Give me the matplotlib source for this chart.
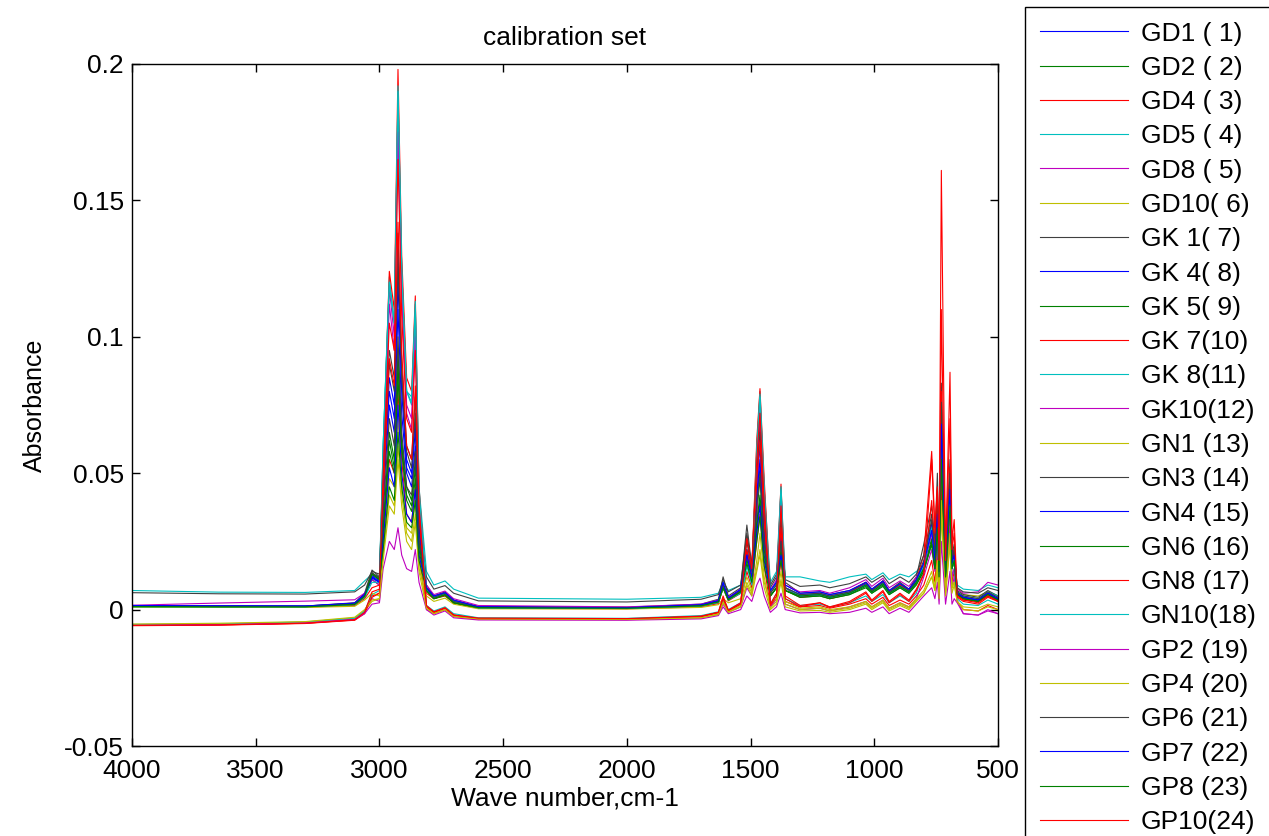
#!/usr/bin/env python3
# -*- coding: utf-8 -*-
#==============================================================================#
import numpy as np
import matplotlib
matplotlib.use('Agg')
import matplotlib.pyplot as plt
from matplotlib import ticker
#==============================================================================#
# sample names (legend text, MATLAB style padding kept)
labels = ['GD1 ( 1)', 'GD2 ( 2)', 'GD4 ( 3)', 'GD5 ( 4)', 'GD8 ( 5)', 'GD10( 6)',
          'GK 1( 7)', 'GK 4( 8)', 'GK 5( 9)', 'GK 7(10)', 'GK 8(11)', 'GK10(12)',
          'GN1 (13)', 'GN3 (14)', 'GN4 (15)', 'GN6 (16)', 'GN8 (17)', 'GN10(18)',
          'GP2 (19)', 'GP4 (20)', 'GP6 (21)', 'GP7 (22)', 'GP8 (23)', 'GP10(24)']

# absorbance (x 0.001) read at key wave numbers, one value per sample 1..24
a4000 = [1.2, 1.0, -5.8, 7.0, -5.6, -5.5, 1.5, 1.3, 1.1, 0.9, -5.4, 1.6, 0.8, 6.2, 1.4, 1.2, -5.9, 1.0, -5.7, -5.3, 1.3, 1.5, 1.1, -5.8]
a3650 = [1.1, 1.0, -5.6, 6.4, -5.5, -5.2, 1.4, 1.2, 1.0, 0.9, -5.3, 2.4, 0.8, 5.8, 1.3, 1.1, -5.7, 1.0, -5.5, -5.0, 1.2, 1.4, 1.0, -5.6]
a3300 = [1.1, 1.0, -5.0, 6.3, -4.9, -4.6, 1.3, 1.2, 1.0, 0.9, -4.5, 3.1, 0.8, 5.7, 1.3, 1.1, -5.1, 1.0, -4.9, -4.4, 1.2, 1.3, 1.0, -5.0]
a3100 = [2.0, 1.6, -3.8, 7.0, -3.5, -3.0, 2.5, 2.2, 1.8, 1.5, -3.2, 3.6, 1.2, 6.5, 2.3, 2.0, -3.9, 1.8, -3.6, -2.8, 2.1, 2.4, 1.9, -3.7]
a3060 = [5.0, 4.5, -1.0, 10.5, -0.8, -0.5, 6.0, 5.5, 5.0, 4.0, -0.5, 6.0, 3.5, 9.0, 5.5, 5.0, -1.5, 4.5, -1.5, 0.0, 5.0, 5.5, 4.8, -1.0]
a3030 = [12.0, 11.0, 5.0, 13.0, 4.0, 3.0, 14.5, 12.5, 13.5, 8.0, 5.5, 11.0, 6.0, 14.0, 12.0, 13.0, 4.5, 10.0, 2.0, 3.5, 13.5, 11.5, 13.0, 6.5]
a3000 = [10.0, 9.0, 6.0, 12.0, 3.0, 4.0, 12.0, 10.5, 11.5, 9.0, 7.0, 9.0, 5.0, 13.0, 10.0, 11.0, 6.0, 10.0, 2.5, 4.0, 11.5, 10.0, 11.0, 7.5]
a2985 = [40, 30, 25, 60, 35, 22, 55, 45, 30, 55, 60, 50, 20, 50, 40, 28, 40, 60, 15, 18, 35, 25, 22, 50]
a2960 = [85, 65, 55, 122, 118, 48, 95, 80, 62, 124, 120, 112, 42, 90, 75, 58, 92, 120, 25, 38, 70, 52, 45, 105]
a2940 = [75, 55, 50, 105, 100, 45, 85, 70, 52, 110, 105, 95, 38, 80, 65, 50, 82, 105, 22, 35, 60, 45, 40, 95]
a2925 = [130, 95, 80, 188, 185, 70, 138, 120, 90, 198, 190, 175, 60, 128, 110, 85, 142, 192, 30, 55, 100, 75, 65, 165]
a2910 = [85, 62, 55, 125, 120, 48, 90, 80, 60, 130, 125, 115, 42, 85, 72, 58, 95, 125, 20, 38, 65, 50, 45, 108]
a2890 = [55, 45, 35, 80, 75, 30, 60, 52, 42, 85, 80, 72, 28, 58, 50, 40, 60, 80, 15, 25, 45, 35, 32, 70]
a2870 = [50, 40, 32, 75, 70, 28, 55, 48, 38, 80, 76, 66, 25, 52, 45, 36, 55, 78, 14, 22, 42, 32, 30, 65]
a2855 = [70, 55, 45, 112, 108, 40, 78, 66, 52, 115, 113, 100, 35, 72, 60, 48, 82, 110, 22, 32, 58, 44, 40, 95]
a2840 = [30, 25, 20, 45, 40, 18, 35, 30, 24, 45, 42, 38, 15, 32, 28, 22, 35, 44, 10, 14, 26, 20, 18, 38]
a2810 = [8, 7, 1, 14, 0, 0.5, 9, 8, 7, 6, 1.5, 9, 5, 12, 8, 7, 1, 7, 0, 0.5, 8, 8, 7, 1.5]
a2780 = [4.5, 4.0, -1.0, 9.0, -1.5, -1.5, 5.0, 4.5, 4.0, 4.0, -0.5, 5.5, 3.0, 7.5, 4.5, 4.0, -1.0, 4.5, -2.0, -1.5, 4.5, 5.0, 4.0, -0.8]
a2735 = [5.5, 5.0, 0.5, 10.5, 0.0, 0.0, 6.5, 6.0, 5.5, 5.2, 1.0, 6.8, 4.2, 8.8, 6.0, 5.5, 0.5, 5.8, -0.5, 0.0, 6.0, 6.2, 5.5, 0.7]
a2700 = [3.0, 2.5, -2.0, 7.5, -2.5, -2.5, 3.5, 3.0, 2.5, 2.5, -1.5, 4.0, 2.0, 6.0, 3.0, 2.5, -2.0, 3.0, -3.0, -2.5, 3.0, 3.5, 2.5, -2.0]
a2600 = [0.8, 0.6, -3.2, 4.2, -3.5, -3.6, 1.2, 0.9, 0.7, 0.5, -3.0, 1.5, 0.3, 3.2, 0.9, 0.7, -3.3, 0.6, -3.8, -3.4, 0.8, 1.0, 0.7, -3.1]
a2000 = [0.5, 0.4, -3.4, 3.8, -3.6, -3.7, 0.9, 0.6, 0.5, 0.3, -3.2, 1.0, 0.2, 2.8, 0.6, 0.5, -3.5, 0.4, -3.9, -3.6, 0.6, 0.7, 0.5, -3.3]
a1700 = [1.5, 1.2, -2.6, 4.5, -3.0, -3.0, 2.0, 1.6, 1.3, 1.0, -2.2, 2.0, 0.8, 3.8, 1.6, 1.4, -2.5, 1.3, -3.4, -3.0, 1.5, 1.8, 1.4, -2.4]
a1630 = [3.0, 2.6, -1.2, 6.0, -1.8, -1.5, 3.8, 3.2, 2.8, 2.2, -0.8, 3.5, 1.8, 5.5, 3.0, 2.8, -1.0, 2.6, -2.2, -1.8, 3.0, 3.3, 2.8, -1.0]
a1611 = [9, 8, 3, 10, 2, 3, 12, 9, 8.5, 8, 4, 9, 4, 11, 9, 8, 4, 8, 1, 2.5, 9, 10, 8, 5]
a1590 = [4.0, 3.5, -0.5, 7.0, -1.0, -0.8, 5.0, 4.2, 3.8, 3.2, 0.0, 4.5, 2.5, 6.5, 4.0, 3.6, -0.3, 3.5, -1.5, -1.0, 4.0, 4.3, 3.6, -0.2]
a1540 = [7, 6, 2, 9, 1, 1.5, 8, 7, 6.5, 6, 2.5, 7.5, 4, 9, 7, 6.5, 2, 6, 0, 1, 7, 7.5, 6.5, 2.5]
a1515 = [20, 18, 14, 22, 8, 10, 31, 22, 19, 27, 16, 20, 12, 28, 21, 18, 22, 17, 5, 9, 25, 20, 17, 26]
a1495 = [12, 11, 8, 14, 5, 6, 16, 13, 11, 15, 9, 12, 7, 15, 12, 11, 12, 10, 3, 5, 14, 12, 10, 15]
a1475 = [45, 35, 25, 60, 30, 18, 55, 42, 32, 62, 58, 50, 15, 50, 40, 30, 48, 58, 9, 14, 38, 28, 25, 55]
a1462 = [60, 48, 35, 80, 76, 28, 68, 55, 42, 81, 79, 72, 22, 65, 52, 40, 62, 78, 11.5, 20, 50, 38, 34, 72]
a1445 = [30, 24, 16, 45, 40, 12, 35, 28, 22, 48, 44, 38, 10, 34, 26, 20, 32, 44, 5, 8, 25, 18, 16, 40]
a1420 = [6, 5, 1, 10, 1, 0.5, 8, 6, 5, 6, 2, 7, 2, 9, 6, 5, 1.5, 6, -1, 0, 6, 7, 5, 2]
a1395 = [10, 8, 4, 14, 4, 3, 12, 10, 8, 10, 6, 11, 4, 13, 10, 8, 5, 10, 1, 2, 9, 10, 8, 6]
a1377 = [30, 25, 18, 45, 44, 14, 35, 28, 22, 46, 45, 40, 11, 33, 27, 21, 30, 44, 6, 10, 25, 20, 18, 38]
a1360 = [8, 7, 3, 12, 2, 2, 10, 8, 7, 8, 4, 9, 3, 11, 8, 7, 4, 8, 0, 1, 8, 9, 7, 5]
a1300 = [5, 4.5, 1, 12, 0, 0, 6, 5.5, 5, 4.5, 1.5, 6.5, 0.5, 8.5, 5, 4.5, 1, 5, -1.2, -0.5, 5.5, 6, 5, 1.5]
a1220 = [5.5, 5, 1.5, 10.5, 0.5, 0.5, 6.5, 6, 5.5, 5.5, 2, 7, 1, 9, 5.5, 5, 2.5, 5.5, -1.0, -0.3, 6, 6.5, 5.5, 2.5]
a1180 = [4.5, 4, 0.5, 10, -0.5, -0.5, 5.5, 5, 4.5, 4, 1, 6, 0, 8, 4.5, 4, 0.8, 4.5, -1.5, -1.0, 5, 5.5, 4.5, 1]
a1100 = [6, 5.5, 2, 12, 1, 0.5, 7, 6.5, 6, 6, 2.5, 8, 1, 9.5, 6, 5.5, 2.5, 6, -1, 0, 6.5, 7, 6, 3]
a1034 = [9, 8, 4, 13, 3, 2.5, 10, 9.5, 9, 10, 5, 11, 3, 12, 9, 8.5, 6, 9, 0.5, 2, 10, 10, 9, 6.5]
a1010 = [6.5, 6, 2, 11, 1, 0.5, 7.5, 7, 6.5, 6.5, 3, 8.5, 1, 10, 6.5, 6, 3, 6.5, -1, 0, 7, 7.5, 6.5, 3.5]
a965 = [9.5, 8.5, 4.5, 13.5, 3.5, 3, 10.5, 10, 9.5, 10.5, 5.5, 11.5, 3.5, 12.5, 9.5, 9, 6.5, 9.5, 1, 2.5, 10.5, 10.5, 9.5, 7]
a940 = [6, 5.5, 1.5, 11, 0.5, 0, 7, 6.5, 6, 6, 2.5, 8, 0.5, 9.5, 6, 5.5, 2.5, 6, -1.5, -0.5, 6.5, 7, 6, 3]
a896 = [8.5, 8, 3.5, 13, 2.5, 2, 10, 9, 8.5, 9, 5, 10.5, 2.5, 12, 8.5, 8, 5.5, 8.5, 0.5, 1.5, 9.5, 9.5, 8.5, 6]
a860 = [6.5, 6, 2, 12, 1, 0.5, 7.5, 7, 6.5, 7, 3, 8.5, 1, 10, 6.5, 6, 3, 6.5, -1, 0, 7, 7.5, 6.5, 3.5]
a830 = [10, 9, 5, 14, 4, 3.5, 12, 10.5, 10, 11, 6, 12, 4, 13, 10, 9.5, 7, 10, 2, 3, 11, 11, 10, 7.5]
a800 = [16, 14, 9, 16, 12, 6, 24, 17, 15, 20, 14, 16, 7, 20, 16, 14, 13, 16, 5, 6, 18, 17, 15, 13]
a768 = [30, 25, 18, 28, 22, 12, 38, 32, 26, 58, 30, 28, 14, 35, 30, 24, 40, 30, 8, 12, 33, 29, 24, 55]
a755 = [18, 15, 10, 20, 14, 7, 25, 20, 16, 30, 18, 17, 8, 22, 19, 15, 20, 19, 4, 7, 20, 18, 15, 28]
a745 = [35, 30, 22, 30, 25, 15, 50, 36, 32, 45, 32, 30, 18, 40, 34, 30, 35, 32, 10, 15, 42, 35, 30, 44]
a738 = [15, 12, 6, 14, 5, 4, 18, 15, 13, 20, 8, 10, 5, 16, 14, 12, 12, 12, 2, 4, 16, 14, 12, 18]
a729 = [65, 55, 45, 75, 60, 35, 83, 70, 58, 161, 72, 68, 40, 78, 72, 60, 80, 74, 25, 38, 76, 68, 55, 110]
a712 = [14, 12, 8, 18, 8, 6, 18, 15, 12, 20, 12, 12, 6, 16, 14, 12, 14, 14, 2, 5, 15, 14, 12, 18]
a694 = [45, 38, 30, 40, 30, 25, 55, 48, 40, 87, 38, 35, 28, 50, 46, 40, 52, 40, 14, 24, 50, 44, 38, 70]
a686 = [18, 15, 10, 18, 8, 8, 20, 18, 15, 25, 12, 12, 8, 19, 17, 15, 18, 15, 2, 6, 18, 17, 15, 22]
a677 = [22, 18, 14, 20, 12, 10, 24, 20, 18, 33, 15, 15, 10, 22, 20, 18, 22, 18, 4, 9, 22, 20, 18, 28]
a665 = [6, 5.5, 3, 9, 3.5, 8, 7, 6, 5.5, 5, 4, 7.5, 3, 8, 6, 5.5, 4.5, 6.5, 2.5, 3, 6.5, 6, 5.5, 5]
a640 = [4.5, 4, 0, 7.5, -1.5, 5.5, 5.5, 4.5, 4, 3.5, 2, 6, 1, 6.5, 4.5, 4, 3, 5, -1.5, 0, 5, 4.5, 4, 3.5]
a580 = [3.5, 3, -0.5, 7, -2, 5, 4.5, 3.5, 3, 3, 1.5, 6.5, 0.5, 6, 3.5, 3, 2, 4, -2, -0.5, 4, 3.5, 3, 2.5]
a541 = [6, 5, 1.5, 9, 0, 6.5, 7, 6, 5.5, 5, 3.5, 10, 2, 8, 6, 5.5, 4.5, 6.5, -0.5, 1, 6.5, 6, 5.5, 5]
a500 = [4, 3.5, 0, 8, -1.5, 5, 5, 4, 3.5, 3.5, 2, 9, 1, 7, 4, 3.5, 3, 5, -1.5, 0, 4.5, 4, 3.5, 3]

wave = [4000, 3650, 3300, 3100, 3060, 3030, 3000, 2985, 2960, 2940, 2925, 2910,
        2890, 2870, 2855, 2840, 2810, 2780, 2735, 2700, 2600, 2000, 1700, 1630,
        1611, 1590, 1540, 1515, 1495, 1475, 1462, 1445, 1420, 1395, 1377, 1360,
        1300, 1220, 1180, 1100, 1034, 1010, 965, 940, 896, 860, 830, 800, 768,
        755, 745, 738, 729, 712, 694, 686, 677, 665, 640, 580, 541, 500]
levels = [a4000, a3650, a3300, a3100, a3060, a3030, a3000, a2985, a2960, a2940,
          a2925, a2910, a2890, a2870, a2855, a2840, a2810, a2780, a2735, a2700,
          a2600, a2000, a1700, a1630, a1611, a1590, a1540, a1515, a1495, a1475,
          a1462, a1445, a1420, a1395, a1377, a1360, a1300, a1220, a1180, a1100,
          a1034, a1010, a965, a940, a896, a860, a830, a800, a768, a755, a745,
          a738, a729, a712, a694, a686, a677, a665, a640, a580, a541, a500]
#==============================================================================#
# old MATLAB ColorOrder b g r c m y k
mcolors = [(0, 0, 1), (0, 0.5, 0), (1, 0, 0), (0, 0.75, 0.75),
           (0.75, 0, 0.75), (0.75, 0.75, 0), (0.25, 0.25, 0.25)]

plt.rcParams['font.family'] = ['Liberation Sans', 'DejaVu Sans']
plt.rcParams['axes.unicode_minus'] = False
fs = 19

absorb = np.array(levels) / 1000.0      # rows: wave numbers, cols: samples

fig = plt.figure(figsize=(12.69, 8.36), dpi=100)
ax = fig.add_axes([132/1269, 1-746/836, (998-132)/1269, (746-64)/836])

handles = []
for i, lab in enumerate(labels):
    ln, = ax.plot(wave, absorb[:, i], color=mcolors[i % 7], lw=0.8, label=lab)
    handles.append(ln)

ax.set_xlim(4000, 500)
ax.set_ylim(-0.05, 0.2)
ax.xaxis.set_major_locator(ticker.MultipleLocator(500))
ax.yaxis.set_major_locator(ticker.MultipleLocator(0.05))
ax.yaxis.set_major_formatter(ticker.FuncFormatter(lambda v, p: '%g' % round(v, 3)))
ax.tick_params(axis='both', which='both', direction='in', top=True, right=True,
               length=6, width=1, labelsize=fs)
ax.tick_params(axis='x', pad=9)
ax.tick_params(axis='y', pad=6)
for s in ax.spines.values():
    s.set_linewidth(1.0)

ax.set_title('calibration set', fontsize=fs, pad=14)
ax.set_xlabel('Wave number,cm-1', fontsize=fs, labelpad=3)
ax.set_ylabel('Absorbance', fontsize=18, labelpad=12)

leg = fig.legend(handles, labels, loc='upper left',
                 bbox_to_anchor=(1025/1269, 1-7/836), fontsize=fs,
                 frameon=True, fancybox=False, framealpha=1, edgecolor='black',
                 handlelength=3.37, handletextpad=0.48, labelspacing=0.39,
                 borderpad=0.55, borderaxespad=0)
leg.get_frame().set_linewidth(1.0)

fig.savefig('out.png', dpi=100)
